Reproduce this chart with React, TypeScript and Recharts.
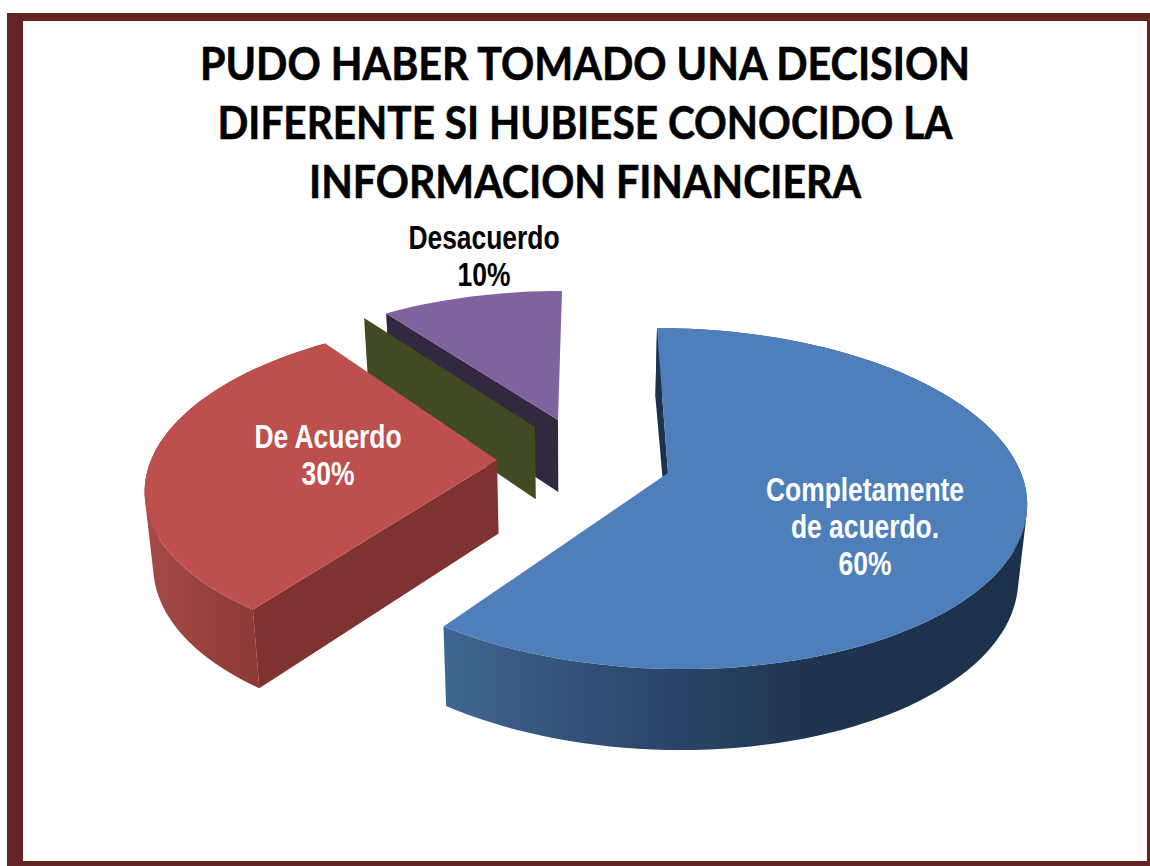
import { PieChart, Pie } from 'recharts';

// drawn counter-clockwise from the top, so the back slices paint first
const categories = ['Desacuerdo', 'Ni de acuerdo', 'De Acuerdo', 'Completamente de acuerdo.'];
const values = [10, 0, 30, 60];
const labelLines = [['Desacuerdo'], [], ['De Acuerdo'], ['Completamente', 'de acuerdo.']];
const titleLines = [
  'PUDO HABER TOMADO UNA DECISION',
  'DIFERENTE SI HUBIESE CONOCIDO LA',
  'INFORMACION FINANCIERA',
];
const titleWidths = [770, 735, 552];

const chartData = categories.map((name, i) => ({ name, value: values[i] }));

// how each exploded slice sits on the tilted plane
interface SliceLook {
  ax: number; ay: number; // apex on screen
  a: number; b: number; s: number; k: number; m: number; // perspective
  top: string; wall: string;
  wallStops?: [number, string][];
  gradX?: [number, number];
  apexDx?: number;
  labelX: number; labelY: number; labelColor: string;
}

const looks: SliceLook[] = [
  { ax: 558, ay: 420, a: 144.5, b: 327, s: -4.5, k: 0.12, m: 0, top: '#7f629e', wall: '#32283f', labelX: 484, labelY: 249, labelColor: '#000' },
  { ax: 535, ay: 427, a: 148, b: 330, s: -8, k: 0.12, m: 0, top: '#404b22', wall: '#404b22', labelX: 0, labelY: 0, labelColor: '#000' },
  {
    ax: 497, ay: 460, a: 162, b: 346, s: -13, k: 0.153, m: 0, top: '#bd4f4c', wall: '#7f3331',
    wallStops: [[0, '#a54a47'], [1, '#8a3a37']], gradX: [145, 261],
    labelX: 328, labelY: 448, labelColor: '#fff',
  },
  {
    ax: 668, ay: 473, a: 166.7, b: 353, s: 12.65, k: 0.15, m: 0, top: '#4e7fbb', wall: '#1d324c',
    wallStops: [[0, '#3f6691'], [0.3, '#2e4b70'], [0.65, '#1e334e'], [1, '#1c314b']], gradX: [445, 1028],
    apexDx: 2.5, labelX: 865, labelY: 501, labelColor: '#fff',
  },
];

type Pt = { x: number; y: number };

const project = (look: SliceLook, deg: number): Pt => {
  const rad = (deg * Math.PI) / 180;
  const u = Math.cos(rad);
  const v = -Math.sin(rad);
  const d = 1 - look.k * v - look.m * u;
  return { x: look.ax + (look.b * u + look.s * v) / d, y: look.ay + (look.a * v) / d };
};

// the underside of the pie: a little deeper at the front, pulled in to the middle
const drop = (p: Pt): Pt => ({
  x: p.x + 0.02 * (575 - p.x),
  y: p.y + 74 + 0.036 * (p.y - 477),
});

const toPath = (pts: Pt[]) =>
  'M' + pts.map((p) => `${p.x.toFixed(1)},${p.y.toFixed(1)}`).join('L') + 'Z';

// same winding on every strip so one nonzero path fills them without seams
const windOne = (pts: Pt[]) => {
  let area = 0;
  pts.forEach((p, i) => {
    const q = pts[(i + 1) % pts.length];
    area += p.x * q.y - q.x * p.y;
  });
  return area < 0 ? [...pts].reverse() : pts;
};

const SliceShape = (props: any) => {
  const { startAngle, endAngle, index, percent } = props;
  const look = looks[index];
  const apex = { x: look.ax, y: look.ay };
  const apexLow = { ...drop(apex), x: drop(apex).x + (look.apexDx ?? 0) };

  const rim: Pt[] = [];
  const steps = Math.max(1, Math.ceil((endAngle - startAngle) / 2));
  for (let i = 0; i <= steps; i++) {
    rim.push(project(look, startAngle + ((endAngle - startAngle) * i) / steps));
  }
  const last = rim[rim.length - 1];
  const gradId = `wall-${index}`;
  const lines = labelLines[index];
  const hasArea = endAngle - startAngle > 0;
  const curved = rim
    .slice(1)
    .map((p, i) => toPath(windOne([rim[i], p, drop(p), drop(rim[i])])))
    .join('');

  return (
    <g>
      {look.gradX && (
        <defs>
          <linearGradient id={gradId} gradientUnits="userSpaceOnUse" x1={look.gradX[0]} x2={look.gradX[1]} y1="0" y2="0">
            {look.wallStops!.map(([o, c]) => (
              <stop key={o} offset={o} stopColor={c} />
            ))}
          </linearGradient>
        </defs>
      )}
      {look.gradX && <path d={curved} fill={`url(#${gradId})`} fillRule="nonzero" />}
      <path d={toPath([last, apex, apexLow, drop(last)])} fill={look.wall} />
      {hasArea && <path d={toPath([apex, ...rim])} fill={look.top} />}
      {lines.length > 0 && (
        <g transform={`translate(${look.labelX} 0) scale(0.8 1)`}>
          <text
            x={0}
            y={look.labelY}
            textAnchor="middle"
            fill={look.labelColor}
            fontFamily="'Liberation Sans', Arial, sans-serif"
            fontWeight={700}
            fontSize={33}
          >
            {lines.map((line, i) => (
              <tspan key={line} x={0} dy={i === 0 ? 0 : 37}>
                {line}
              </tspan>
            ))}
            <tspan x={0} dy={37}>
              {`${Math.round(percent * 100)}%`}
            </tspan>
          </text>
        </g>
      )}
    </g>
  );
};

export default function App() {
  return (
    <div style={{ position: 'absolute', left: 0, top: 0, width: 1150, height: 866, background: '#fff', overflow: 'hidden' }}>
      <div
        style={{
          position: 'absolute',
          left: 7,
          top: 13,
          width: 1124,
          height: 840,
          borderStyle: 'solid',
          borderColor: '#632423',
          borderWidth: '8px 3px 5px 16px',
        }}
      />
      <div style={{ position: 'absolute', left: 0, top: 0 }}>
        <PieChart width={1150} height={866} margin={{ top: 0, right: 0, bottom: 0, left: 0 }}>
          {titleLines.map((line, i) => (
            <text
              key={line}
              x={585}
              y={80 + i * 59}
              textAnchor="middle"
              textLength={titleWidths[i]}
              lengthAdjust="spacingAndGlyphs"
              fontFamily="Lato, 'Open Sans', sans-serif"
              fontWeight={700}
              fontSize={45}
              fill="#000"
              stroke="#000"
              strokeWidth={0.6}
            >
              {line}
            </text>
          ))}
          <Pie
            data={chartData}
            dataKey="value"
            nameKey="name"
            cx={575}
            cy={480}
            outerRadius={300}
            startAngle={90}
            endAngle={450}
            stroke="none"
            isAnimationActive={false}
            shape={SliceShape}
          />
        </PieChart>
      </div>
    </div>
  );
}
